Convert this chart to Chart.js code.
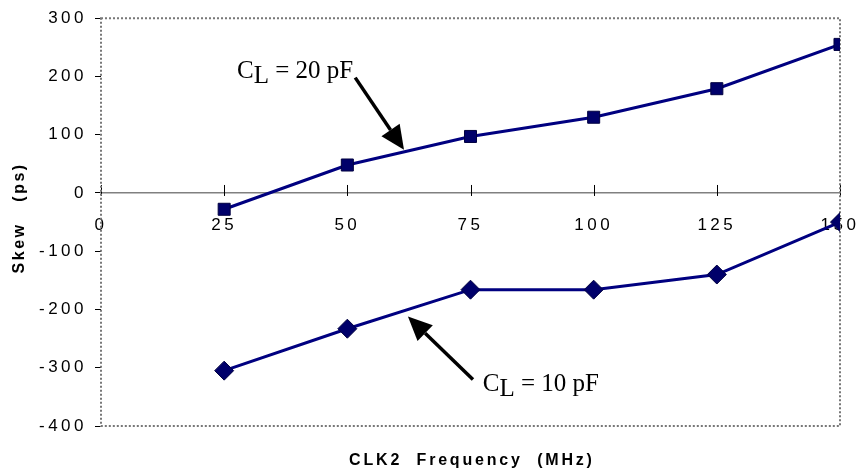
<!DOCTYPE html>
<html>
<head>
<meta charset="utf-8">
<script src="https://cdn.jsdelivr.net/npm/chart.js@4.4.0/dist/chart.umd.min.js"></script>
<style>
  html, body { margin: 0; padding: 0; background: #fff; }
  #wrap { width: 856px; height: 474px; }
</style>
</head>
<body>
<div id="wrap"><canvas id="chart"></canvas></div>
<script>
// frequencies (MHz)
const freqs = [25, 50, 75, 100, 125, 150];
// skew (ps)
const skew20pF = [-28, 48, 97, 130, 179, 255];
const skew10pF = [-305, -233, -166, -166, -140, -50];

const xTicks = [0, 25, 50, 75, 100, 125, 150];
const yTicks = [-400, -300, -200, -100, 0, 100, 200, 300];

const xTitle = "CLK2  Frequency  (MHz)";
const yTitle = "Skew   (ps)";

// callouts: text anchor and arrow tail/head in data units
const notes = [
  { label: "20 pF", tx: 27.6, ty: 197, from: [51.6, 198], to: [61.5, 74] },
  { label: "10 pF", tx: 77.5, ty: -340, from: [75.5, -320], to: [62.3, -212] }
];

const navy = "#000080";
const tickSpacing = "3.5px";

const frame = {
  id: "frame",
  beforeLayout(chart) { chart.ctx.letterSpacing = tickSpacing; },
  beforeDraw(chart) {
    const ctx = chart.ctx;
    const a = chart.chartArea;
    ctx.save();
    ctx.fillStyle = "#000";
    ctx.textAlign = "center";
    ctx.textBaseline = "middle";
    ctx.font = "bold 16px 'Liberation Sans'";
    ctx.letterSpacing = "2.8px";
    ctx.fillText(xTitle, (a.left + a.right) / 2 + 1.4, 461);
    ctx.letterSpacing = "2.5px";
    ctx.translate(20, (a.top + a.bottom) / 2 - 3);
    ctx.rotate(-Math.PI / 2);
    ctx.fillText(yTitle, 1.2, 0);
    ctx.restore();
    ctx.letterSpacing = tickSpacing;
  },
  beforeDatasetsDraw(chart) {
    const ctx = chart.ctx;
    const a = chart.chartArea;
    const x = chart.scales.x;
    const y0 = chart.scales.y.getPixelForValue(0);
    ctx.save();
    ctx.letterSpacing = "0px";
    // upward tick marks on the zero line
    ctx.strokeStyle = "#000";
    ctx.lineWidth = 1;
    xTicks.forEach(v => {
      const px = Math.round(x.getPixelForValue(v)) + 0.5;
      ctx.beginPath();
      ctx.moveTo(px, y0 - 8);
      ctx.lineTo(px, y0 + 3);
      ctx.stroke();
    });
    // dotted frame
    ctx.strokeStyle = "#777";
    ctx.lineWidth = 2;
    ctx.setLineDash([2, 2]);
    ctx.strokeRect(a.left, a.top, a.right - a.left, a.bottom - a.top);
    ctx.restore();
  },
  afterDatasetsDraw(chart) {
    const ctx = chart.ctx;
    const x = chart.scales.x, y = chart.scales.y;
    ctx.save();
    ctx.letterSpacing = "0px";
    notes.forEach(n => {
      const tx = x.getPixelForValue(n.tx), ty = y.getPixelForValue(n.ty);
      ctx.fillStyle = "#000";
      ctx.textBaseline = "alphabetic";
      ctx.textAlign = "left";
      ctx.font = "25px 'Liberation Serif'";
      ctx.fillText("C", tx, ty);
      const cw = ctx.measureText("C").width;
      ctx.fillText("L", tx + cw, ty + 5);
      const lw = ctx.measureText("L").width;
      ctx.fillText(" = " + n.label, tx + cw + lw, ty);

      const x1 = x.getPixelForValue(n.from[0]), y1 = y.getPixelForValue(n.from[1]);
      const x2 = x.getPixelForValue(n.to[0]), y2 = y.getPixelForValue(n.to[1]);
      const ang = Math.atan2(y2 - y1, x2 - x1);
      const hl = 24, hw = 11;
      const bx = x2 - hl * Math.cos(ang), by = y2 - hl * Math.sin(ang);
      ctx.strokeStyle = "#000";
      ctx.lineWidth = 3.5;
      ctx.beginPath();
      ctx.moveTo(x1, y1);
      ctx.lineTo(bx, by);
      ctx.stroke();
      ctx.beginPath();
      ctx.moveTo(x2, y2);
      ctx.lineTo(bx + hw * Math.sin(ang), by - hw * Math.cos(ang));
      ctx.lineTo(bx - hw * Math.sin(ang), by + hw * Math.cos(ang));
      ctx.closePath();
      ctx.fill();
    });
    ctx.restore();
  }
};

new Chart(document.getElementById("chart"), {
  type: "line",
  data: {
    datasets: [
      {
        label: "CL = 20 pF",
        data: freqs.map((f, i) => ({ x: f, y: skew20pF[i] })),
        borderColor: navy,
        borderWidth: 3,
        pointStyle: "rect",
        pointRadius: 8.5,
        pointBackgroundColor: "#00006a",
        pointBorderColor: "#000040",
        pointBorderWidth: 1
      },
      {
        label: "CL = 10 pF",
        data: freqs.map((f, i) => ({ x: f, y: skew10pF[i] })),
        borderColor: navy,
        borderWidth: 3,
        pointStyle: "rectRot",
        pointRadius: 9.5,
        pointBackgroundColor: "#00006a",
        pointBorderColor: "#000040",
        pointBorderWidth: 1
      }
    ]
  },
  options: {
    responsive: true,
    maintainAspectRatio: false,
    animation: false,
    layout: { padding: { left: 0, top: 17, right: 16, bottom: 48 } },
    plugins: {
      legend: { display: false },
      tooltip: { enabled: false }
    },
    scales: {
      x: {
        type: "linear",
        position: { y: 0 },
        min: 0,
        max: 150,
        afterBuildTicks: s => { s.ticks = xTicks.map(v => ({ value: v })); },
        afterFit: s => { s.paddingLeft = 0; s.paddingRight = 0; },
        grid: { display: false },
        border: { display: true, color: "#808080", width: 1.5 },
        ticks: {
          color: "#000",
          padding: 14,
          maxRotation: 0,
          autoSkip: false,
          font: { family: "'Liberation Sans'", size: 17 }
        }
      },
      y: {
        min: -400,
        max: 300,
        afterBuildTicks: s => { s.ticks = yTicks.map(v => ({ value: v })); },
        afterFit: s => { s.width = 101; },
        grid: { drawOnChartArea: false, drawTicks: true, tickLength: 6, color: "#000" },
        border: { display: false },
        ticks: {
          color: "#000",
          padding: 8,
          font: { family: "'Liberation Sans'", size: 17 }
        }
      }
    }
  },
  plugins: [frame]
});
</script>
</body>
</html>
